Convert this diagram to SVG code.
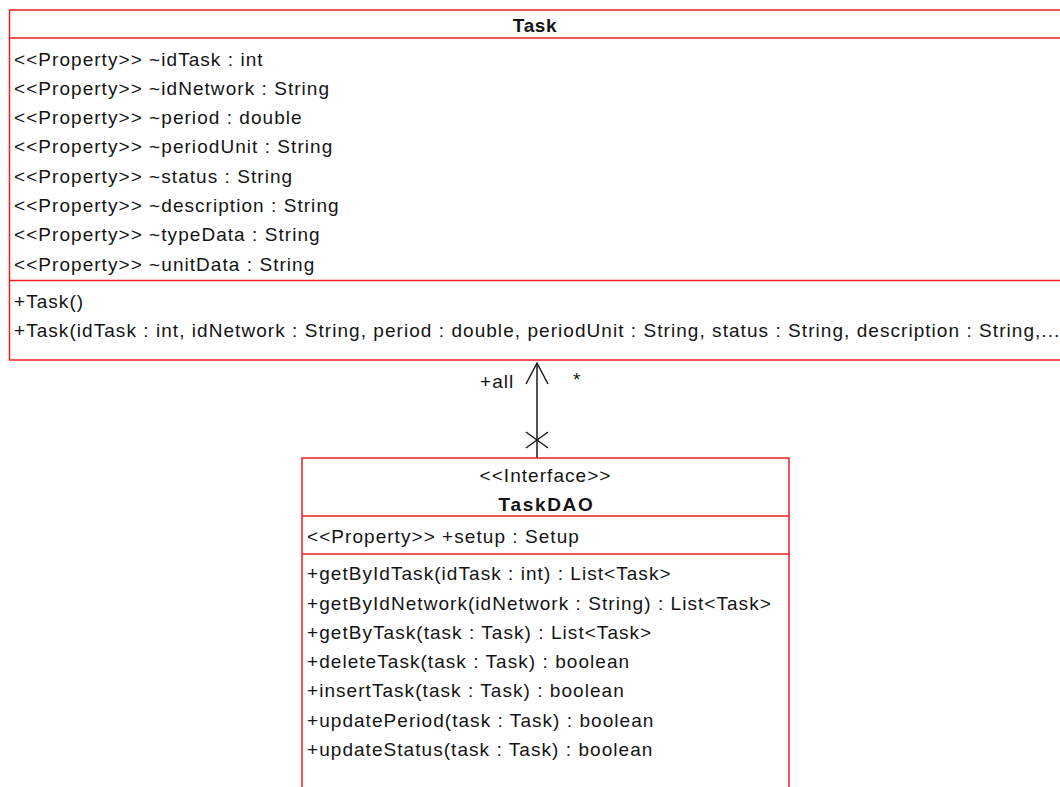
<svg xmlns="http://www.w3.org/2000/svg" width="1060" height="787" viewBox="0 0 1060 787">
<style>
.box{fill:#fff;stroke:#f21d1d;stroke-width:1.5}
.sep{stroke:#f21d1d;stroke-width:1.5}
text{font-family:"Liberation Sans",Arial,sans-serif;font-size:19px;letter-spacing:1.05px;fill:#141414}
.b{font-weight:bold;text-anchor:middle;letter-spacing:0.6px}
.c{text-anchor:middle}
.ln{stroke:#1a1a1a;stroke-width:1.5;fill:none}
</style>
<rect width="1060" height="787" fill="#fff"/>
<g id="Task">
<rect class="box" x="9.5" y="10" width="1060" height="350"/>
<line class="sep" x1="9.5" y1="38" x2="1060" y2="38"/>
<line class="sep" x1="9.5" y1="280.5" x2="1060" y2="280.5"/>
<text class="b" x="535" y="32">Task</text>
<text x="14" y="65.5">&lt;&lt;Property&gt;&gt; ~idTask : int</text>
<text x="14" y="94.8">&lt;&lt;Property&gt;&gt; ~idNetwork : String</text>
<text x="14" y="124.1">&lt;&lt;Property&gt;&gt; ~period : double</text>
<text x="14" y="153.4">&lt;&lt;Property&gt;&gt; ~periodUnit : String</text>
<text x="14" y="182.7">&lt;&lt;Property&gt;&gt; ~status : String</text>
<text x="14" y="212">&lt;&lt;Property&gt;&gt; ~description : String</text>
<text x="14" y="241.3">&lt;&lt;Property&gt;&gt; ~typeData : String</text>
<text x="14" y="270.6">&lt;&lt;Property&gt;&gt; ~unitData : String</text>
<text x="14" y="308.3">+Task()</text>
<text x="14" y="337.3">+Task(idTask : int, idNetwork : String, period : double, periodUnit : String, status : String, description : String,...</text>
</g>
<g id="connectors">
<line class="ln" x1="537" y1="363" x2="537" y2="458"/>
<polyline class="ln" points="526,384 537,363 548,384"/>
<line class="ln" x1="526" y1="432" x2="548" y2="448"/>
<line class="ln" x1="548" y1="432" x2="526" y2="448"/>
<text x="480" y="388">+all</text>
<text x="573" y="386">*</text>
</g>
<g id="TaskDAO">
<rect class="box" x="302" y="458" width="487" height="340"/>
<line class="sep" x1="302" y1="516" x2="789" y2="516"/>
<line class="sep" x1="302" y1="554" x2="789" y2="554"/>
<text class="c" x="545.5" y="482">&lt;&lt;Interface&gt;&gt;</text>
<text class="b" x="546.5" y="511" style="letter-spacing:1.7px">TaskDAO</text>
<text x="307" y="543">&lt;&lt;Property&gt;&gt; +setup : Setup</text>
<text x="307" y="580">+getByIdTask(idTask : int) : List&lt;Task&gt;</text>
<text x="307" y="610">+getByIdNetwork(idNetwork : String) : List&lt;Task&gt;</text>
<text x="307" y="639">+getByTask(task : Task) : List&lt;Task&gt;</text>
<text x="307" y="668">+deleteTask(task : Task) : boolean</text>
<text x="307" y="697">+insertTask(task : Task) : boolean</text>
<text x="307" y="727">+updatePeriod(task : Task) : boolean</text>
<text x="307" y="756">+updateStatus(task : Task) : boolean</text>
</g>
</svg>
